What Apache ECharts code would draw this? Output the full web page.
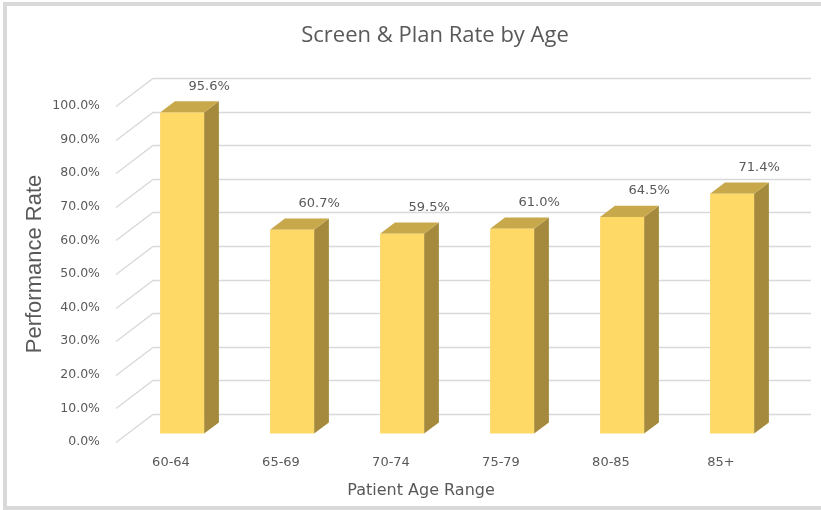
<!DOCTYPE html>
<html><head><meta charset="utf-8">
<script src="https://cdn.jsdelivr.net/npm/echarts@6/dist/echarts.min.js"></script>
<style>html,body{margin:0;padding:0;background:#fff;overflow:hidden}#c{width:821px;height:510px}</style>
</head><body><div id="c"></div>
<script>
const TITLE = 'Screen & Plan Rate by Age';
const CATEGORIES = ['60-64', '65-69', '70-74', '75-79', '80-85', '85+'];
const RATES = [95.6, 60.7, 59.5, 61.0, 64.5, 71.4];
const Y_TICKS = [0, 10, 20, 30, 40, 50, 60, 70, 80, 90, 100];
const X_NAME = 'Patient Age Range';
const Y_NAME = 'Performance Rate';

// style constants for the 3D look
const DX = 37, DY = -28;
const BAR_FRONT = 0.3, BAR_BACK = 0.7, BAR_WIDTH = 0.4;
const FRONT = '#FFD966', TOP = '#C7A84B', SIDE = '#A58A3E';
const TEXT = '#595959', GRID = '#D9D9D9';

function renderGrid(params, api) {
  const v = api.value(1);
  const p = api.coord([0, v]);
  const band = api.size([1, 0])[0];
  const left = p[0] - band / 2;
  const right = left + band * CATEGORIES.length - 2;
  const y = Math.round(p[1]) + 0.5;
  return {
    type: 'polyline',
    shape: { points: [[left, y], [left + DX, y + DY], [right + DX, y + DY]] },
    style: { stroke: GRID, lineWidth: 1.3, fill: null }
  };
}

function renderBar(params, api) {
  const i = api.value(0), v = api.value(1);
  const base = api.coord([i, 0]), top = api.coord([i, v]);
  const band = api.size([1, 0])[0];
  const w = band * BAR_WIDTH;
  const x0 = base[0] - w / 2 + DX * BAR_FRONT, x1 = x0 + w;
  const yb = base[1] + DY * BAR_FRONT, yt = top[1] + DY * BAR_FRONT;
  const ddx = DX * (BAR_BACK - BAR_FRONT), ddy = DY * (BAR_BACK - BAR_FRONT);
  return {
    type: 'group',
    children: [
      { type: 'polygon', shape: { points: [[x1, yb], [x1 + ddx, yb + ddy], [x1 + ddx, yt + ddy], [x1, yt]] }, style: { fill: SIDE } },
      { type: 'polygon', shape: { points: [[x0, yt], [x1, yt], [x1 + ddx, yt + ddy], [x0 + ddx, yt + ddy]] }, style: { fill: TOP } },
      { type: 'rect', shape: { x: x0, y: yt, width: w, height: yb - yt }, style: { fill: FRONT } },
      { type: 'text', x: (x0 + x1) / 2 + 27, y: yt - 26,
        style: { text: v.toFixed(1) + '%', align: 'center', verticalAlign: 'middle',
                 font: '13px "DejaVu Sans"', fill: TEXT } }
    ]
  };
}

const chart = echarts.init(document.getElementById('c'), null, { renderer: 'canvas' });
chart.setOption({
  animation: false,
  backgroundColor: '#fff',
  title: {
    text: TITLE, left: 435, top: 36, textAlign: 'center', textVerticalAlign: 'middle', padding: 0,
    textStyle: { fontFamily: 'Open Sans', fontSize: 22, fontWeight: 'normal', color: TEXT }
  },
  grid: { left: 116, right: 45, top: 106, bottom: 68 },
  xAxis: {
    type: 'category', data: CATEGORIES,
    axisLine: { show: false }, axisTick: { show: false }, splitLine: { show: false },
    axisLabel: { margin: 14, color: TEXT, fontFamily: 'DejaVu Sans', fontSize: 13 }
  },
  yAxis: {
    type: 'value', min: 0, max: 100, interval: 10,
    axisLine: { show: false }, axisTick: { show: false }, splitLine: { show: false },
    axisLabel: { margin: 16, color: TEXT, fontFamily: 'DejaVu Sans', fontSize: 12.5,
                 formatter: v => v.toFixed(1) + '%' }
  },
  graphic: [
    { type: 'polyline', shape: { points: [[5, 515], [5, 4], [821, 4]] },
      style: { fill: null, stroke: GRID, lineWidth: 4 }, silent: true },
    { type: 'line', shape: { x1: 3, y1: 508, x2: 821, y2: 508 },
      style: { stroke: GRID, lineWidth: 4 }, silent: true },
    { type: 'text', x: 35, y: 264, rotation: Math.PI / 2,
      style: { text: Y_NAME, align: 'center', verticalAlign: 'middle', fill: TEXT,
               font: '22px "Liberation Sans"' } },
    { type: 'text', x: 421, y: 491,
      style: { text: X_NAME, align: 'center', verticalAlign: 'middle', fill: TEXT,
               font: '16px "DejaVu Sans"' } }
  ],
  series: [
    { type: 'custom', renderItem: renderGrid, data: Y_TICKS.map(t => [0, t]),
      encode: { x: 0, y: 1 }, clip: false, silent: true, z: 1 },
    { type: 'custom', renderItem: renderBar, data: RATES.map((r, i) => [i, r]),
      encode: { x: 0, y: 1 }, clip: false, z: 2 }
  ]
});
</script>
</body></html>
